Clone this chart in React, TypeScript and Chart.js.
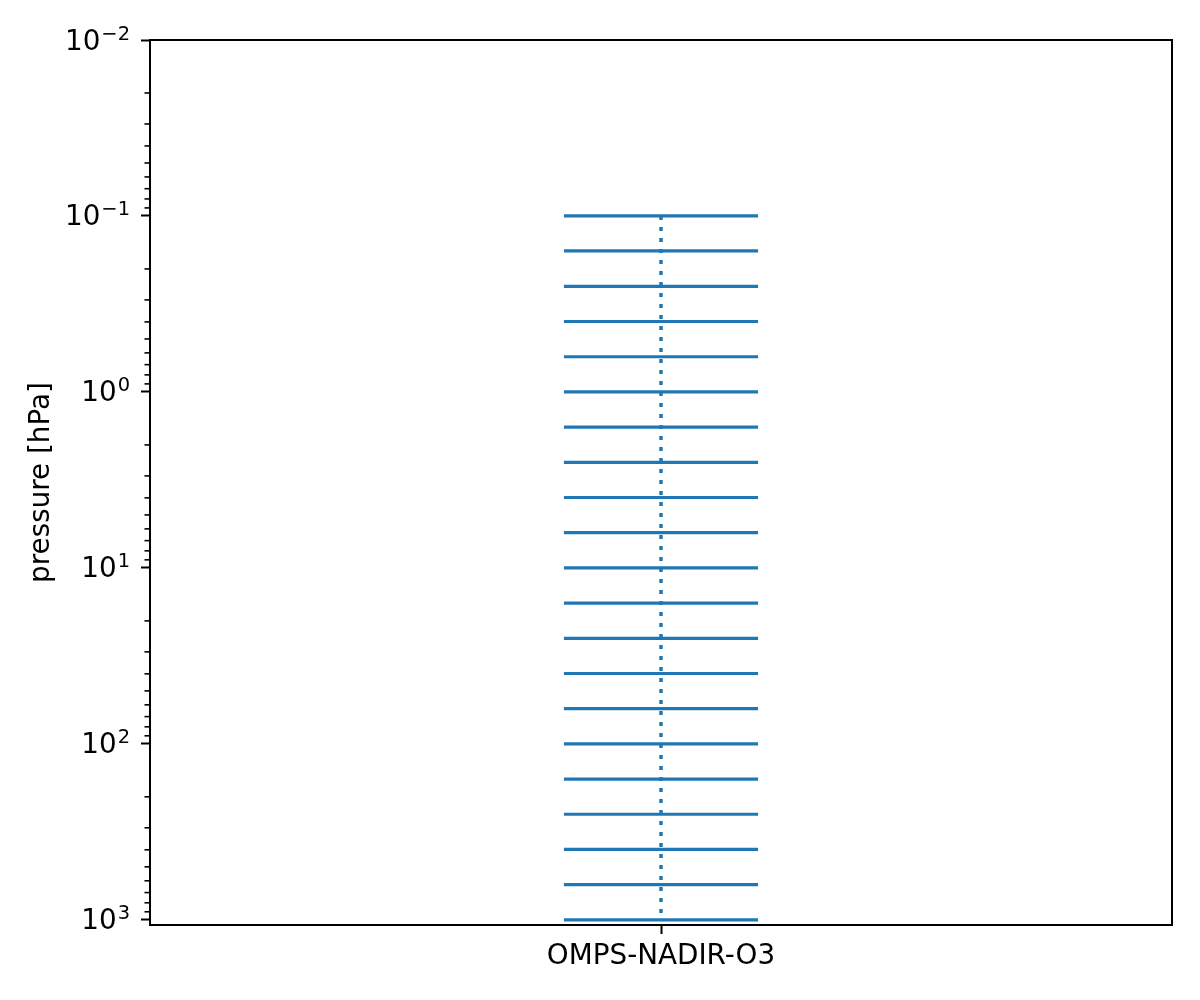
import { useEffect, useRef } from 'react'
import { Chart, registerables } from 'chart.js'

Chart.register(...registerables)

// instrument shown on the single x category
const instrument = 'OMPS-NADIR-O3'

// retrieval pressure levels (hPa)
const pressureLevels = [
  0.1, 0.158, 0.251, 0.398, 0.631,
  1, 1.585, 2.512, 3.981, 6.31,
  10, 15.85, 25.12, 39.81, 63.1,
  100, 158.5, 251.2, 398.1, 631,
  1000,
]

// decade ticks: value, base and exponent of the label
const majorTicks = [0.01, 0.1, 1, 10, 100, 1000]
const tickBase = '10'
const tickExponents = ['−2', '−1', '0', '1', '2', '3']
const minorMultipliers = [2, 3, 4, 5, 6, 7, 8, 9]

const yMin = 0.01
const yMax = 1070
const levelHalfWidth = 0.095

const blue = '#1f77b4'
const fontFamily = '"DejaVu Sans", sans-serif'
const fontSize = 27.8

const framePlugin = {
  id: 'frame',
  afterDraw(chart: any) {
    const { ctx, chartArea: a } = chart
    const y = chart.scales.y
    ctx.save()
    ctx.strokeStyle = '#000'
    // minor ticks on the log axis
    ctx.lineWidth = 1.6
    majorTicks.forEach(d => {
      minorMultipliers.forEach(m => {
        const v = d * m
        if (v < yMin || v > yMax) return
        const py = y.getPixelForValue(v)
        ctx.beginPath()
        ctx.moveTo(a.left - 5.5, py)
        ctx.lineTo(a.left, py)
        ctx.stroke()
      })
    })
    // decade labels as 10 with a raised exponent
    const baseFont = `${fontSize}px ${fontFamily}`
    const expFont = `${fontSize * 0.7}px ${fontFamily}`
    ctx.fillStyle = '#000'
    ctx.textBaseline = 'alphabetic'
    ctx.textAlign = 'left'
    const right = a.left - 9 - 11
    majorTicks.forEach((v, i) => {
      const py = y.getPixelForValue(v)
      ctx.font = expFont
      const ew = ctx.measureText(tickExponents[i]).width
      ctx.font = baseFont
      const bw = ctx.measureText(tickBase).width
      const x0 = right - ew - bw - 1
      const baseline = py + 9.5
      ctx.fillText(tickBase, x0, baseline)
      ctx.font = expFont
      ctx.fillText(tickExponents[i], x0 + bw + 1, baseline - 10)
    })
    ctx.lineWidth = 2
    ctx.strokeRect(a.left, a.top, a.right - a.left, a.bottom - a.top)
    ctx.restore()
  },
}

export default function App() {
  const chartRef = useRef<HTMLCanvasElement>(null)
  const chartInstance = useRef<Chart | null>(null)

  useEffect(() => {
    document.body.style.margin = '0'
    if (!chartRef.current) return
    if (chartInstance.current) chartInstance.current.destroy()
    const ctx = chartRef.current.getContext('2d')
    if (!ctx) return

    const levelSets = pressureLevels.map(p => ({
      data: [
        { x: -levelHalfWidth, y: p },
        { x: levelHalfWidth, y: p },
      ],
      borderColor: blue,
      borderWidth: 3.2,
      pointRadius: 0,
      order: 1,
    }))

    const profile = {
      data: [
        { x: 0, y: Math.min(...pressureLevels) },
        { x: 0, y: Math.max(...pressureLevels) },
      ],
      borderColor: blue,
      borderWidth: 3.5,
      borderDash: [4, 7],
      pointRadius: 0,
      order: 0,
    }

    chartInstance.current = new Chart(ctx, {
      type: 'line',
      data: { datasets: [profile, ...levelSets] as any },
      options: {
        responsive: false,
        animation: false,
        layout: { padding: { top: 40, right: 28, left: 0, bottom: 0 } },
        plugins: {
          legend: { display: false },
          tooltip: { enabled: false },
        },
        scales: {
          x: {
            type: 'linear',
            min: -0.5,
            max: 0.5,
            afterBuildTicks: (scale: any) => {
              scale.ticks = [{ value: 0 }]
            },
            afterFit: (scale: any) => {
              scale.height = 75
            },
            ticks: {
              autoSkip: false,
              maxRotation: 0,
              padding: 6,
              color: '#000',
              font: { family: fontFamily, size: fontSize },
              callback: () => instrument,
            },
            grid: {
              drawOnChartArea: false,
              drawTicks: true,
              tickLength: 9,
              tickWidth: 2,
              tickColor: '#000',
            },
            border: { display: true, color: '#000', width: 2 },
          },
          y: {
            type: 'logarithmic',
            reverse: true,
            min: yMin,
            max: yMax,
            afterBuildTicks: (scale: any) => {
              scale.ticks = majorTicks.map(v => ({ value: v, major: true }))
            },
            afterFit: (scale: any) => {
              scale.width = 150
            },
            ticks: {
              display: false,
              autoSkip: false,
            },
            grid: {
              drawOnChartArea: false,
              drawTicks: true,
              tickLength: 9,
              tickWidth: 2,
              tickColor: '#000',
            },
            border: { display: true, color: '#000', width: 2 },
            title: {
              display: true,
              text: 'pressure [hPa]',
              color: '#000',
              font: { family: fontFamily, size: fontSize },
              padding: { top: 25, bottom: 0 },
            },
          },
        },
      },
      plugins: [framePlugin],
    })

    return () => {
      if (chartInstance.current) {
        chartInstance.current.destroy()
        chartInstance.current = null
      }
    }
  }, [])

  return (
    <div style={{ width: 1200, height: 1000, background: '#fff' }}>
      <canvas ref={chartRef} width={1200} height={1000} style={{ display: 'block' }} />
    </div>
  )
}
